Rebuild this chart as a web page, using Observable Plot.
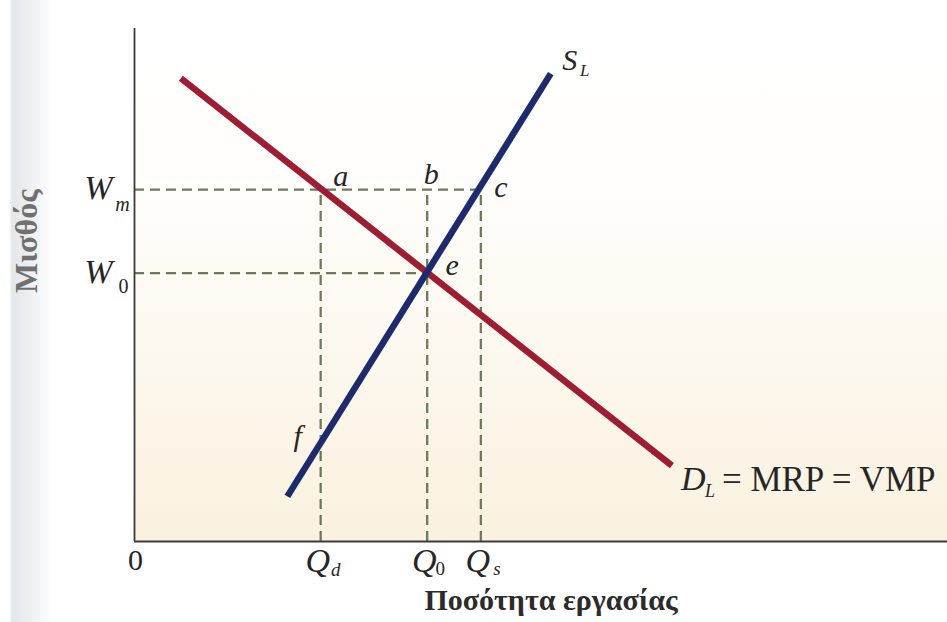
<!DOCTYPE html>
<html>
<head>
<meta charset="utf-8">
<script src="https://cdn.jsdelivr.net/npm/d3@7"></script>
<script src="https://cdn.jsdelivr.net/npm/@observablehq/plot@0.6"></script>
<style>
  html, body { margin: 0; padding: 0; }
  body {
    width: 947px; height: 622px; overflow: hidden;
    background: linear-gradient(to right, #ffffff 0px, #ffffff 9px, #e4e7ea 12px, #eceef0 28px, #f7f8f9 42px, #ffffff 52px);
  }
  #chart svg { display: block; }
</style>
</head>
<body>
<div id="chart"></div>
<script>
// ---- data (arbitrary units) ----
const wageNames = ["W", "W"];
const wageSubs = ["m", "0"];
const wageValues = [68.6, 52.3];          // W_m, W_0
const qtyNames = ["Q", "Q", "Q"];
const qtySubs = ["d", "0", "s"];
const qtyValues = [22.9, 36.0, 42.6];     // Q_d, Q_0, Q_s
const demandQ = [5.7, 66.1];
const demandW = [90.3, 14.8];
const supplyQ = [18.8, 51.2];
const supplyW = [8.8, 91.2];
const pointLabels = ["a", "b", "c", "e", "f"];
const pointQ = [22.9, 36.0, 42.6, 36.0, 22.9];
const pointW = [68.6, 68.6, 68.6, 52.3, 19.2];
const supplyLabel = ["S", "L"];
const demandLabel = ["D", "L", "= MRP = VMP"];
const originLabel = ["0"];
const xTitle = ["Ποσότητα εργασίας"];
const yTitle = ["Μισθός"];

// horizontal dashed guides end at Q_s (for W_m) and Q_0 (for W_0)
const wageRuleEnds = [qtyValues[2], qtyValues[1]];

// ---- styles ----
const serif = "'Liberation Serif', 'Times New Roman', serif";
const ink = "#262626";
const dashColor = "#6e7b5b";
const pointOffsets = { a: [20, -13], b: [4, -15], c: [20, -2], e: [25, -8], f: [-23, -7] };

const demand = demandQ.map((q, i) => ({ q, w: demandW[i] }));
const supply = supplyQ.map((q, i) => ({ q, w: supplyW[i] }));

const italic = { fontFamily: serif, fontStyle: "italic", fill: ink };
const upright = { fontFamily: serif, fill: ink };

const marks = [
  Plot.frame({ fill: "url(#bgGrad)" }),
  // dashed guides
  Plot.ruleY(wageValues, { y: d => d, x1: 0, x2: (d, i) => wageRuleEnds[i], stroke: dashColor, strokeWidth: 2.3, strokeDasharray: "10,6" }),
  Plot.ruleX(qtyValues, { x: d => d, y1: 0, y2: wageValues[0], stroke: dashColor, strokeWidth: 2.3, strokeDasharray: "10,6" }),
  // axes
  Plot.ruleY([0], { stroke: "#3a3a3a", strokeWidth: 1.8 }),
  Plot.ruleX([0], { stroke: "#3a3a3a", strokeWidth: 1.8 }),
  // curves
  Plot.line(demand, { x: "q", y: "w", stroke: "#9d1d33", strokeWidth: 6.5, strokeLinecap: "butt" }),
  Plot.line(supply, { x: "q", y: "w", stroke: "#1d2a6c", strokeWidth: 6.5, strokeLinecap: "butt" }),
  // wage tick labels
  Plot.text(wageValues, { x: 0, y: d => d, text: (d, i) => wageNames[i], dx: -36, dy: -1, fontSize: 34, ...italic }),
  Plot.text([wageValues[0]], { x: 0, y: d => d, text: () => wageSubs[0], dx: -12, dy: 15, fontSize: 20, ...italic }),
  Plot.text([wageValues[1]], { x: 0, y: d => d, text: () => wageSubs[1], dx: -11, dy: 13, fontSize: 20, ...upright }),
  // quantity tick labels
  Plot.text(qtyValues, { x: d => d, y: 0, text: (d, i) => qtyNames[i], dx: -3, dy: 20, fontSize: 34, ...italic }),
  Plot.text([qtyValues[0]], { x: d => d, y: 0, text: () => qtySubs[0], dx: 15, dy: 28, fontSize: 19, ...italic }),
  Plot.text([qtyValues[1]], { x: d => d, y: 0, text: () => qtySubs[1], dx: 13, dy: 27, fontSize: 19, ...upright }),
  Plot.text([qtyValues[2]], { x: d => d, y: 0, text: () => qtySubs[2], dx: 16, dy: 27, fontSize: 19, ...italic }),
  Plot.text(originLabel, { x: 0, y: 0, text: d => d, dx: 1, dy: 19, fontSize: 30, ...upright }),
  // point labels
  ...pointLabels.map((lab, i) => Plot.text([i], {
    x: j => pointQ[j], y: j => pointW[j], text: j => pointLabels[j],
    dx: pointOffsets[lab][0], dy: pointOffsets[lab][1], fontSize: 30, ...italic
  })),
  // supply label
  Plot.text([supply[1]], { x: "q", y: "w", text: () => supplyLabel[0], dx: 19, dy: -13, fontSize: 30, ...italic }),
  Plot.text([supply[1]], { x: "q", y: "w", text: () => supplyLabel[1], dx: 34, dy: -3, fontSize: 17, ...italic }),
  // demand label
  Plot.text([demand[1]], { x: "q", y: "w", text: () => demandLabel[0], dx: 9, dy: 14, textAnchor: "start", fontSize: 34, ...italic }),
  Plot.text([demand[1]], { x: "q", y: "w", text: () => demandLabel[1], dx: 33, dy: 26, textAnchor: "start", fontSize: 18, ...italic }),
  Plot.text([demand[1]], { x: "q", y: "w", text: () => demandLabel[2], dx: 50, dy: 14, textAnchor: "start", fontSize: 35, ...upright }),
  // axis titles
  Plot.text(xTitle, { frameAnchor: "bottom", text: d => d, dx: 10, dy: 68, fontSize: 30, fontWeight: "bold", fontFamily: serif, fill: "#2b2b2b" }),
  Plot.text(yTitle, { frameAnchor: "left", text: d => d, dx: -108, dy: 8, rotate: -90, fontSize: 32, fontWeight: "bold", fontFamily: serif, fill: "#707070" })
];

const svg = Plot.plot({
  width: 947,
  height: 622,
  marginLeft: 134,
  marginRight: 0,
  marginTop: 28,
  marginBottom: 81,
  x: { domain: [0, 100], axis: null },
  y: { domain: [0, 100], axis: null },
  style: { background: "transparent", overflow: "visible" },
  marks
});

const defs = d3.select(svg).insert("defs", ":first-child");
const grad = defs.append("linearGradient").attr("id", "bgGrad")
  .attr("x1", 0).attr("y1", 0).attr("x2", 0).attr("y2", 1);
grad.append("stop").attr("offset", "0%").attr("stop-color", "#ffffff");
grad.append("stop").attr("offset", "30%").attr("stop-color", "#fffefc");
grad.append("stop").attr("offset", "65%").attr("stop-color", "#fdf8ee");
grad.append("stop").attr("offset", "100%").attr("stop-color", "#faf1df");

document.getElementById("chart").appendChild(svg);
</script>
</body>
</html>
